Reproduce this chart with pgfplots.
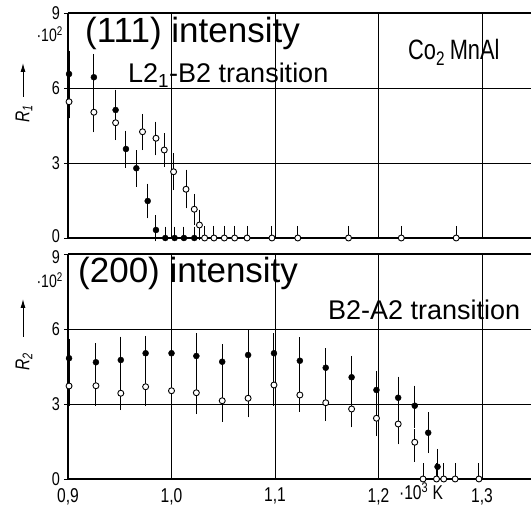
\documentclass[border=0pt]{standalone}
\usepackage{pgfplots}
\pgfplotsset{compat=1.18}
\usepackage{pgfplotstable}
\usetikzlibrary{arrows.meta}
\usepackage{fontspec}
\setmainfont{Liberation Sans}
\newfontfamily\narrow[FakeStretch=0.78]{Liberation Sans}

% top panel, filled circles
\pgfplotstableread{
x y ep em
0.901 6.56 0.80 0.64
0.925 6.43 0.80 0.65
0.946 5.12 0.68 0.60
0.956 3.56 0.60 0.62
0.966 2.79 0.58 0.60
0.977 1.48 0.56 0.56
0.985 0.32 0.45 0.32
0.994 0 0.32 0
1.003 0 0.32 0
1.012 0 0.32 0
1.022 0 0.32 0
}\topfilled
% top panel, open circles
\pgfplotstableread{
x y ep em
0.901 5.45 0.50 0.53
0.925 5.03 0.70 0.67
0.946 4.61 0.60 0.56
0.972 4.25 0.58 0.60
0.985 3.99 0.53 0.55
0.993 3.52 0.53 0.53
1.002 2.65 0.60 0.60
1.014 1.95 0.65 0.63
1.022 1.15 0.48 0.50
1.027 0.52 0.48 0.48
1.032 0 0.35 0
1.041 0 0.35 0
1.051 0 0.35 0
1.061 0 0.35 0
1.073 0 0.35 0
1.097 0 0.35 0
1.122 0 0.35 0
1.171 0 0.35 0
1.222 0 0.35 0
1.275 0 0.35 0
}\topopen
% bottom panel, filled circles
\pgfplotstableread{
x y ep em
0.901 4.83 0.64 0.58
0.927 4.67 0.62 0.51
0.951 4.76 0.80 0.73
0.975 5.03 0.56 0.80
1.000 5.03 0.60 0.60
1.024 4.92 0.77 0.76
1.049 4.69 0.56 0.62
1.074 4.96 0.87 0.87
1.099 5.03 0.66 0.74
1.124 4.73 0.80 0.77
1.149 4.45 0.64 0.80
1.174 4.07 0.72 0.67
1.198 3.56 0.63 0.63
1.219 3.25 0.71 0.53
1.235 2.93 0.67 0.74
1.248 1.85 0.68 0.68
1.257 0.49 0.58 0.49
}\botfilled
% bottom panel, open circles
\pgfplotstableread{
x y ep em
0.901 3.72 0.53 0.67
0.927 3.73 0.57 0.66
0.951 3.43 0.60 0.54
0.975 3.69 0.54 0.64
1.000 3.53 0.54 0.60
1.024 3.45 0.70 0.72
1.049 3.13 0.72 0.70
1.074 3.23 0.62 0.63
1.099 3.76 0.53 0.69
1.124 3.36 0.60 0.53
1.149 3.05 0.60 0.60
1.174 2.80 0.60 0.60
1.198 2.43 0.60 0.58
1.219 2.20 0.65 0.68
1.235 1.47 0.40 0.64
1.243 0 0.50 0
1.256 0 0.50 0
1.263 0 0.50 0
1.274 0 0.50 0
1.297 0 0.50 0
}\botopen

\pgfplotsset{
  panel/.style={
    scale only axis, width=463pt, height=225pt,
    xmin=0.9, xmax=1.3473, ymin=0, ymax=9,
    axis x line=box, axis y line=left,
    axis line style={-, line width=1.3pt, black},
    xtick={0.9,1.0,1.1,1.2,1.3},
    ytick={0,3,6,9},
    grid=major,
    major grid style={black, line width=0.7pt},
    x tick style={draw=none},
    y tick style={black, line width=0.9pt},
    major tick length=4pt,
    tick align=outside,
    yticklabel style={anchor=base east, inner sep=0pt, xshift=-4pt, yshift=-6.6pt,
      font=\narrow\fontsize{18.5}{18.5}\selectfont},
    xticklabel style={anchor=north, inner sep=0pt, yshift=-5pt,
      font=\narrow\fontsize{20}{20}\selectfont},
    clip=false,
    error bars/y dir=both,
    error bars/y explicit,
    error bars/error bar style={line width=1pt, black},
    error bars/error mark options={line width=1pt, mark size=3.3pt, black},
  },
  filledpts/.style={only marks, mark=*, mark size=3pt,
    mark options={fill=black, draw=black}},
  openpts/.style={only marks, mark=*, mark size=3pt,
    mark options={fill=white, draw=black, line width=0.9pt}},
}

\begin{document}
\begin{tikzpicture}[x=1pt,y=1pt]
\path[use as bounding box] (0,0) rectangle (531,506);

% ---------- top panel ----------
\begin{axis}[panel, at={(68pt,268pt)}, anchor=south west,
  yticklabels={{\raisebox{2.5pt}{0}},3,6,9},
  xticklabels={{},{},{},{},{}}]
\addplot+[filledpts] table[x=x, y=y, y error plus=ep, y error minus=em] {\topfilled};
\addplot+[openpts] table[x=x, y=y, y error plus=ep, y error minus=em] {\topopen};
\end{axis}

% ---------- bottom panel ----------
\begin{axis}[panel, at={(68pt,27pt)}, anchor=south west,
  yticklabels={0,3,6,{\raisebox{-2.5pt}{9}}},
  xticklabels={{0,9},{1,0},{1,1},{1,2},{1,3}}]
\addplot+[filledpts] table[x=x, y=y, y error plus=ep, y error minus=em] {\botfilled};
\addplot+[openpts] table[x=x, y=y, y error plus=ep, y error minus=em] {\botopen};
\end{axis}

% ---------- texts ----------
\node[anchor=base west, inner sep=0pt, font=\fontsize{35}{35}\selectfont] at (85,463) {(111) intensity};
\node[anchor=base west, inner sep=0pt, font=\fontsize{27}{27}\selectfont] at (128,423) {L2\textsubscript{1}-B2 transition};
\node[anchor=base west, inner sep=0pt, font=\narrow\fontsize{28}{28}\selectfont] at (408,446) {Co\textsubscript{2}\,MnAl};

\node[anchor=base west, inner sep=0pt, font=\fontsize{35}{35}\selectfont] at (78,223) {(200) intensity};
\node[anchor=base west, inner sep=0pt, font=\fontsize{27}{27}\selectfont] at (328,186) {B2-A2 transition};

\node[anchor=base east, inner sep=0pt, font=\narrow\fontsize{18}{18}\selectfont] at (63,464) {·10\textsuperscript{2}};
\node[anchor=base east, inner sep=0pt, font=\narrow\fontsize{18}{18}\selectfont] at (63,218) {·10\textsuperscript{2}};

\node[anchor=base, inner sep=0pt, font=\narrow\fontsize{20}{20}\selectfont] at (421,6) {·10\textsuperscript{3} K};

\draw[line width=1pt, -{Latex[length=9pt,width=5pt]}] (23,409) -- (23,443);
\node[rotate=90, inner sep=0pt, font=\narrow\itshape\fontsize{20}{20}\selectfont] at (24,392) {R\textsubscript{1}};
\draw[line width=1pt, -{Latex[length=9pt,width=5pt]}] (23,169) -- (23,207);
\node[rotate=90, inner sep=0pt, font=\narrow\itshape\fontsize{20}{20}\selectfont] at (24,144) {R\textsubscript{2}};
\end{tikzpicture}
\end{document}
